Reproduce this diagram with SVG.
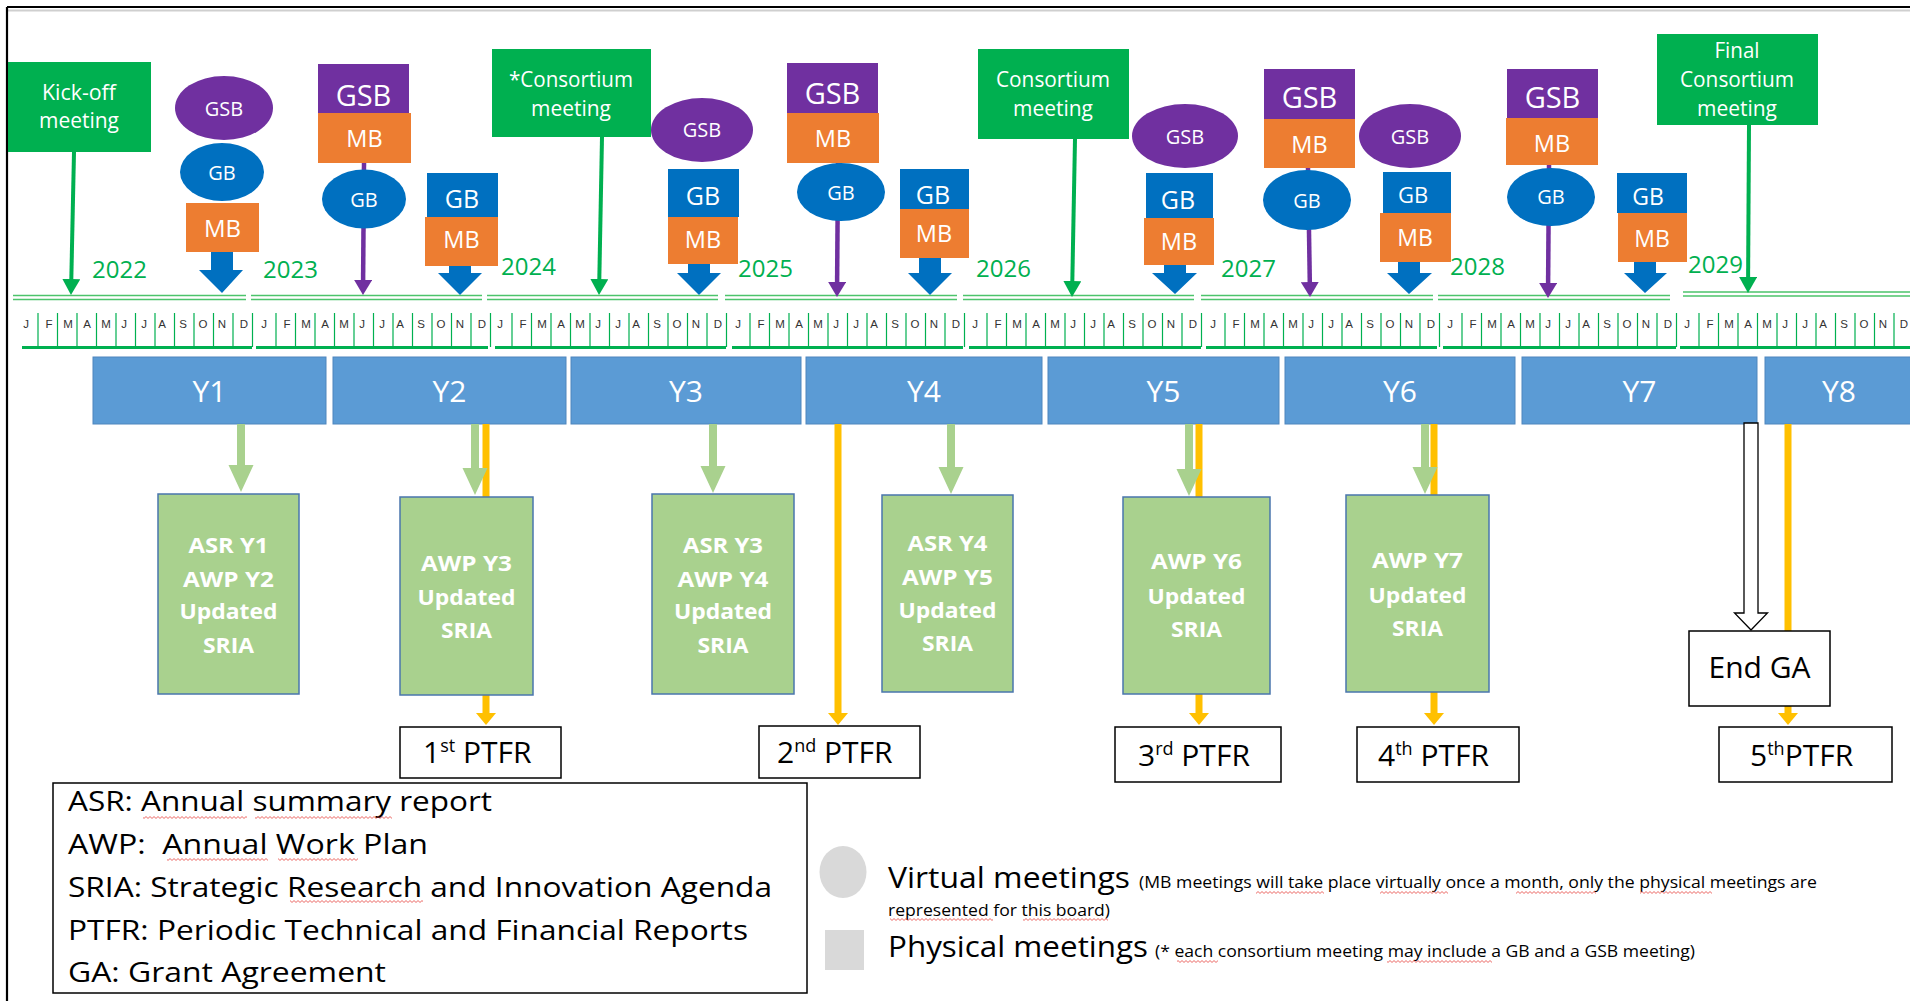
<svg xmlns="http://www.w3.org/2000/svg" width="1910" height="1001" viewBox="0 0 1910 1001">
<style>
text{font-family:"Open Sans","Liberation Sans",sans-serif}
.c{text-anchor:middle}
.w{fill:#fff}
.k{fill:#000}
.pur{fill:#7030A0}
.blu{fill:#0070C0}
.org{fill:#ED7D31}
.grn{fill:#00B050}
.ybox{fill:#5B9BD5;stroke:#4F86BD;stroke-width:1}
.gbox{fill:#A9D18E;stroke:#4A76AD;stroke-width:1.5}
.wbox{fill:#fff;stroke:#000;stroke-width:1.5}
.ct{font-size:21.5px;fill:#fff;text-anchor:middle}
.yt{font-size:30px;fill:#fff;text-anchor:middle}
.bt{font-size:22px;font-weight:bold;fill:#fff;text-anchor:middle}
.pt{font-size:30px;fill:#000}
.sup{font-size:18px}
.yr{font-size:24px;fill:#00B050}
.mo{font-family:"Liberation Sans",sans-serif;font-size:11.5px;fill:#333;text-anchor:middle}
.lg{font-size:26.5px;fill:#000;white-space:pre}
.big{font-size:29px;fill:#000}
.sm{font-size:17px;fill:#000}
.dl{stroke:#4CC46B;stroke-width:1.6;fill:none}
.bl{stroke:#00B050;stroke-width:3;fill:none}
.tk{stroke:#00B050;stroke-width:1.2;fill:none}
.gl{stroke:#00B050;stroke-width:4;fill:none}
.pl{stroke:#7030A0;stroke-width:4.5;fill:none}
.ol{stroke:#FFC000;stroke-width:7;fill:none}
.la{fill:#A9D18E}
.sq{fill:url(#sq)}
</style>
<defs>
<marker id="hG" markerUnits="userSpaceOnUse" markerWidth="16" markerHeight="18" viewBox="0 0 16 18" refX="1" refY="9" orient="auto"><path d="M0,0L16,9L0,18z" fill="#00B050"/></marker>
<marker id="hP" markerUnits="userSpaceOnUse" markerWidth="15" markerHeight="18" viewBox="0 0 15 18" refX="1" refY="9" orient="auto"><path d="M0,0L15,9L0,18z" fill="#7030A0"/></marker>
<marker id="hO" markerUnits="userSpaceOnUse" markerWidth="12" markerHeight="20" viewBox="0 0 12 20" refX="1" refY="10" orient="auto"><path d="M0,0L12,10L0,20z" fill="#FFC000"/></marker>
<path id="tk" class="tk" d="M13,313V347M32.5,313V347M52,313V347M71.5,313V347M91,313V347M110.5,313V347M130,313V347M149.5,313V347M169,313V347M188.5,313V347M208,313V347M227.5,313V347"/>
<pattern id="sq" width="4" height="3" patternUnits="userSpaceOnUse"><path d="M-1,1.5L0,2.5L2,0.5L4,2.5L5,1.5" stroke="#E53935" stroke-width="0.8" fill="none"/></pattern>
</defs>
<rect width="1910" height="1001" fill="#fff"/>
<g id="frame">
<path d="M8,10.5H1910" stroke="#cfcfcf" stroke-width="2"/>
<path d="M7,7H1910M7,7V1001" stroke="#000" stroke-width="2.2" fill="none"/>
</g>

<g id="timeline">
<path class="dl" d="M13,295.5H246M13,299.5H246M251,295.5H482M251,299.5H482M487,295.5H718M487,299.5H718M725,295.5H957M725,299.5H957M963,295.5H1194M963,299.5H1194M1201,295.5H1433M1201,299.5H1433M1438,295.5H1670M1438,299.5H1670M1683,292H1910M1683,296H1910"/>
<path class="bl" d="M22,347.5H252M256,347.5H488M495,347.5H726M732,347.5H963M969,347.5H1201M1206,347.5H1437M1443,347.5H1676M1680,347.5H1910"/>
<use href="#tk" x="25"/><use href="#tk" x="263"/><use href="#tk" x="499"/><use href="#tk" x="737"/><use href="#tk" x="974"/><use href="#tk" x="1212"/><use href="#tk" x="1449"/><use href="#tk" x="1686"/>
<text class="yr" x="92" y="278">2022</text>
<text class="yr" x="263" y="278">2023</text>
<text class="yr" x="501" y="275">2024</text>
<text class="yr" x="738" y="277">2025</text>
<text class="yr" x="976" y="277">2026</text>
<text class="yr" x="1221" y="277">2027</text>
<text class="yr" x="1450" y="275">2028</text>
<text class="yr" x="1688" y="273">2029</text>
<text class="mo" y="328"><tspan x="26">J</tspan><tspan x="49">F</tspan><tspan x="68">M</tspan><tspan x="87">A</tspan><tspan x="106">M</tspan><tspan x="124">J</tspan><tspan x="144">J</tspan><tspan x="162">A</tspan><tspan x="183">S</tspan><tspan x="203">O</tspan><tspan x="222">N</tspan><tspan x="244">D</tspan></text>
<text class="mo" y="328"><tspan x="264">J</tspan><tspan x="287">F</tspan><tspan x="306">M</tspan><tspan x="325">A</tspan><tspan x="344">M</tspan><tspan x="362">J</tspan><tspan x="382">J</tspan><tspan x="400">A</tspan><tspan x="421">S</tspan><tspan x="441">O</tspan><tspan x="460">N</tspan><tspan x="482">D</tspan></text>
<text class="mo" y="328"><tspan x="500">J</tspan><tspan x="523">F</tspan><tspan x="542">M</tspan><tspan x="561">A</tspan><tspan x="580">M</tspan><tspan x="598">J</tspan><tspan x="618">J</tspan><tspan x="636">A</tspan><tspan x="657">S</tspan><tspan x="677">O</tspan><tspan x="696">N</tspan><tspan x="718">D</tspan></text>
<text class="mo" y="328"><tspan x="738">J</tspan><tspan x="761">F</tspan><tspan x="780">M</tspan><tspan x="799">A</tspan><tspan x="818">M</tspan><tspan x="836">J</tspan><tspan x="856">J</tspan><tspan x="874">A</tspan><tspan x="895">S</tspan><tspan x="915">O</tspan><tspan x="934">N</tspan><tspan x="956">D</tspan></text>
<text class="mo" y="328"><tspan x="975">J</tspan><tspan x="998">F</tspan><tspan x="1017">M</tspan><tspan x="1036">A</tspan><tspan x="1055">M</tspan><tspan x="1073">J</tspan><tspan x="1093">J</tspan><tspan x="1111">A</tspan><tspan x="1132">S</tspan><tspan x="1152">O</tspan><tspan x="1171">N</tspan><tspan x="1193">D</tspan></text>
<text class="mo" y="328"><tspan x="1213">J</tspan><tspan x="1236">F</tspan><tspan x="1255">M</tspan><tspan x="1274">A</tspan><tspan x="1293">M</tspan><tspan x="1311">J</tspan><tspan x="1331">J</tspan><tspan x="1349">A</tspan><tspan x="1370">S</tspan><tspan x="1390">O</tspan><tspan x="1409">N</tspan><tspan x="1431">D</tspan></text>
<text class="mo" y="328"><tspan x="1450">J</tspan><tspan x="1473">F</tspan><tspan x="1492">M</tspan><tspan x="1511">A</tspan><tspan x="1530">M</tspan><tspan x="1548">J</tspan><tspan x="1568">J</tspan><tspan x="1586">A</tspan><tspan x="1607">S</tspan><tspan x="1627">O</tspan><tspan x="1646">N</tspan><tspan x="1668">D</tspan></text>
<text class="mo" y="328"><tspan x="1687">J</tspan><tspan x="1710">F</tspan><tspan x="1729">M</tspan><tspan x="1748">A</tspan><tspan x="1767">M</tspan><tspan x="1785">J</tspan><tspan x="1805">J</tspan><tspan x="1823">A</tspan><tspan x="1844">S</tspan><tspan x="1864">O</tspan><tspan x="1883">N</tspan><tspan x="1904">D</tspan></text>
</g>

<g id="Y1"><rect class="ybox" x="93" y="357" width="233" height="67"/><text class="yt" x="209.5" y="402">Y1</text></g>
<g id="Y2"><rect class="ybox" x="333" y="357" width="233" height="67"/><text class="yt" x="449.5" y="402">Y2</text></g>
<g id="Y3"><rect class="ybox" x="571" y="357" width="230" height="67"/><text class="yt" x="686" y="402">Y3</text></g>
<g id="Y4"><rect class="ybox" x="806" y="357" width="236" height="67"/><text class="yt" x="924" y="402">Y4</text></g>
<g id="Y5"><rect class="ybox" x="1048" y="357" width="231" height="67"/><text class="yt" x="1163.5" y="402">Y5</text></g>
<g id="Y6"><rect class="ybox" x="1285" y="357" width="230" height="67"/><text class="yt" x="1400" y="402">Y6</text></g>
<g id="Y7"><rect class="ybox" x="1522" y="357" width="235" height="67"/><text class="yt" x="1639.5" y="402">Y7</text></g>
<g id="Y8"><rect class="ybox" x="1765" y="357" width="150" height="67"/><text class="yt" x="1839" y="402">Y8</text></g>

<g id="connectors">
<path class="gl" d="M74,152L71.3,280" marker-end="url(#hG)"/>
<path class="gl" d="M602,137L599.3,280" marker-end="url(#hG)"/>
<path class="gl" d="M1075,139L1072.3,282" marker-end="url(#hG)"/>
<path class="gl" d="M1749,125L1748.1,278" marker-end="url(#hG)"/>
<path class="pl" d="M364,163L363.1,281" marker-end="url(#hP)"/>
<path class="pl" d="M838,163L837.1,283" marker-end="url(#hP)"/>
<path class="pl" d="M1308,168L1309.8,283" marker-end="url(#hP)"/>
<path class="pl" d="M1549,165L1548.1,284" marker-end="url(#hP)"/>
<path class="blu" d="M211,252H233V270H243L222,293L199,270H211Z"/>
<path class="blu" d="M449,266H471V273H482L460,295L438,273H449Z"/>
<path class="blu" d="M688,264H710V273H721L699,295L677,273H688Z"/>
<path class="blu" d="M919,258H941V273H952L930,295L908,273H919Z"/>
<path class="blu" d="M1164,265H1186V273H1197L1175,294L1152,273H1164Z"/>
<path class="blu" d="M1398,262H1420V273H1432L1409,294L1387,273H1398Z"/>
<path class="blu" d="M1634,262H1656V273H1667L1645,293L1624,273H1634Z"/>
<path class="ol" d="M486,424V714" marker-end="url(#hO)"/>
<path class="ol" d="M838,424V714" marker-end="url(#hO)"/>
<path class="ol" d="M1199,424V714" marker-end="url(#hO)"/>
<path class="ol" d="M1434,424V714" marker-end="url(#hO)"/>
<path class="ol" d="M1788,424V714" marker-end="url(#hO)"/>
<path class="la" d="M237,424H245V465H253.5L241,492L228.5,465H237Z"/>
<path class="la" d="M471,424H479V468H487.5L475,495L462.5,468H471Z"/>
<path class="la" d="M709,424H717V466H725.5L713,493L700.5,466H709Z"/>
<path class="la" d="M947,424H955V467H963.5L951,494L938.5,467H947Z"/>
<path class="la" d="M1185,424H1193V469H1201.5L1189,496L1176.5,469H1185Z"/>
<path class="la" d="M1421,424H1429V467H1437.5L1425,494L1412.5,467H1421Z"/>
<path d="M1744,423H1758V613H1767.5L1751,630L1734.5,613H1744Z" fill="#fff" stroke="#000" stroke-width="1.3"/>
</g>

<g id="kickoff"><rect class="grn" x="8" y="62" width="143" height="90"/><text class="ct" x="79" y="100" textLength="74" lengthAdjust="spacingAndGlyphs">Kick-off</text><text class="ct" x="79" y="128" textLength="80" lengthAdjust="spacingAndGlyphs">meeting</text></g>
<g id="consortium1"><rect class="grn" x="492" y="49" width="159" height="88"/><text class="ct" x="571" y="87" textLength="124" lengthAdjust="spacingAndGlyphs">*Consortium</text><text class="ct" x="571" y="116" textLength="80" lengthAdjust="spacingAndGlyphs">meeting</text></g>
<g id="consortium2"><rect class="grn" x="978" y="49" width="151" height="90"/><text class="ct" x="1053" y="87" textLength="114" lengthAdjust="spacingAndGlyphs">Consortium</text><text class="ct" x="1053" y="116" textLength="80" lengthAdjust="spacingAndGlyphs">meeting</text></g>
<g id="finalConsortium"><rect class="grn" x="1657" y="34" width="161" height="91"/><text class="ct" x="1737" y="58" textLength="45" lengthAdjust="spacingAndGlyphs">Final</text><text class="ct" x="1737" y="87" textLength="114" lengthAdjust="spacingAndGlyphs">Consortium</text><text class="ct" x="1737" y="116" textLength="80" lengthAdjust="spacingAndGlyphs">meeting</text></g>

<g id="m2022">
<ellipse class="pur" cx="224" cy="108" rx="49" ry="32"/><text class="w c" x="224" y="116" font-size="20">GSB</text>
<ellipse class="blu" cx="222" cy="172" rx="42" ry="29"/><text class="w c" x="222" y="180" font-size="20">GB</text>
<rect class="org" x="186" y="203" width="73" height="49"/><text class="w c" x="222.5" y="237" font-size="24">MB</text>
</g>
<g id="m2023a">
<rect class="pur" x="318" y="64" width="91" height="49"/><text class="w c" x="363.5" y="106" font-size="29">GSB</text>
<rect class="org" x="318" y="113" width="93" height="50"/><text class="w c" x="364.5" y="147" font-size="23.5">MB</text>
<ellipse class="blu" cx="364" cy="199" rx="42" ry="29.5"/><text class="w c" x="364" y="207" font-size="20">GB</text>
</g>
<g id="m2023b">
<rect class="blu" x="427" y="173" width="71" height="44"/><text class="w c" x="462" y="208" font-size="25">GB</text>
<rect class="org" x="425" y="217" width="73" height="49"/><text class="w c" x="461.5" y="248" font-size="23.5">MB</text>
</g>
<g id="m2024">
<ellipse class="pur" cx="702" cy="130" rx="51" ry="32"/><text class="w c" x="702" y="137" font-size="20">GSB</text>
<rect class="blu" x="668" y="169" width="71" height="48"/><text class="w c" x="703" y="205" font-size="25">GB</text>
<rect class="org" x="668" y="217" width="70" height="47"/><text class="w c" x="703" y="248" font-size="23.5">MB</text>
</g>
<g id="m2025a">
<rect class="pur" x="787" y="63" width="91" height="50"/><text class="w c" x="832.5" y="104" font-size="29">GSB</text>
<rect class="org" x="787" y="113" width="92" height="50"/><text class="w c" x="833" y="147" font-size="23.5">MB</text>
<ellipse class="blu" cx="841" cy="192" rx="44" ry="29"/><text class="w c" x="841" y="200" font-size="20">GB</text>
</g>
<g id="m2025b">
<rect class="blu" x="900" y="169" width="69" height="40"/><text class="w c" x="933" y="204" font-size="25">GB</text>
<rect class="org" x="900" y="209" width="69" height="49"/><text class="w c" x="934" y="242" font-size="23.5">MB</text>
</g>
<g id="m2026">
<ellipse class="pur" cx="1185" cy="136" rx="53" ry="32"/><text class="w c" x="1185" y="144" font-size="20">GSB</text>
<rect class="blu" x="1146" y="173" width="67" height="45"/><text class="w c" x="1178" y="209" font-size="25">GB</text>
<rect class="org" x="1144" y="218" width="70" height="47"/><text class="w c" x="1179" y="250" font-size="23.5">MB</text>
</g>
<g id="m2027a">
<rect class="pur" x="1264" y="69" width="91" height="50"/><text class="w c" x="1309.5" y="108" font-size="29">GSB</text>
<rect class="org" x="1264" y="119" width="91" height="49"/><text class="w c" x="1309.5" y="153" font-size="23.5">MB</text>
<ellipse class="blu" cx="1307" cy="200" rx="44" ry="30"/><text class="w c" x="1307" y="208" font-size="20">GB</text>
</g>
<g id="m2027b">
<ellipse class="pur" cx="1410" cy="136" rx="51" ry="32"/><text class="w c" x="1410" y="144" font-size="20">GSB</text>
<rect class="blu" x="1383" y="172" width="68" height="41"/><text class="w c" x="1413" y="203" font-size="22">GB</text>
<rect class="org" x="1380" y="213" width="71" height="49"/><text class="w c" x="1415" y="246" font-size="23">MB</text>
</g>
<g id="m2028a">
<rect class="pur" x="1507" y="69" width="91" height="49"/><text class="w c" x="1552.5" y="108" font-size="29">GSB</text>
<rect class="org" x="1506" y="118" width="92" height="47"/><text class="w c" x="1552" y="152" font-size="23.5">MB</text>
<ellipse class="blu" cx="1551" cy="197" rx="44" ry="29"/><text class="w c" x="1551" y="204" font-size="20">GB</text>
</g>
<g id="m2028b">
<rect class="blu" x="1617" y="173" width="70" height="40"/><text class="w c" x="1648" y="205" font-size="23">GB</text>
<rect class="org" x="1618" y="213" width="69" height="49"/><text class="w c" x="1652" y="247" font-size="23">MB</text>
</g>

<g id="out1"><rect class="gbox" x="158" y="494" width="141" height="200"/>
<text class="bt" x="228.5" y="553" textLength="80" lengthAdjust="spacingAndGlyphs">ASR Y1</text>
<text class="bt" x="228.5" y="587" textLength="91" lengthAdjust="spacingAndGlyphs">AWP Y2</text>
<text class="bt" x="228.5" y="619" textLength="98" lengthAdjust="spacingAndGlyphs">Updated</text>
<text class="bt" x="228.5" y="653" textLength="51" lengthAdjust="spacingAndGlyphs">SRIA</text></g>
<g id="out2"><rect class="gbox" x="400" y="497" width="133" height="198"/>
<text class="bt" x="466.5" y="571" textLength="91" lengthAdjust="spacingAndGlyphs">AWP Y3</text>
<text class="bt" x="466.5" y="605" textLength="98" lengthAdjust="spacingAndGlyphs">Updated</text>
<text class="bt" x="466.5" y="638" textLength="51" lengthAdjust="spacingAndGlyphs">SRIA</text></g>
<g id="out3"><rect class="gbox" x="652" y="494" width="142" height="200"/>
<text class="bt" x="723" y="553" textLength="80" lengthAdjust="spacingAndGlyphs">ASR Y3</text>
<text class="bt" x="723" y="587" textLength="91" lengthAdjust="spacingAndGlyphs">AWP Y4</text>
<text class="bt" x="723" y="619" textLength="98" lengthAdjust="spacingAndGlyphs">Updated</text>
<text class="bt" x="723" y="653" textLength="51" lengthAdjust="spacingAndGlyphs">SRIA</text></g>
<g id="out4"><rect class="gbox" x="882" y="495" width="131" height="197"/>
<text class="bt" x="947.5" y="551" textLength="80" lengthAdjust="spacingAndGlyphs">ASR Y4</text>
<text class="bt" x="947.5" y="585" textLength="91" lengthAdjust="spacingAndGlyphs">AWP Y5</text>
<text class="bt" x="947.5" y="618" textLength="98" lengthAdjust="spacingAndGlyphs">Updated</text>
<text class="bt" x="947.5" y="651" textLength="51" lengthAdjust="spacingAndGlyphs">SRIA</text></g>
<g id="out5"><rect class="gbox" x="1123" y="497" width="147" height="197"/>
<text class="bt" x="1196.5" y="569" textLength="91" lengthAdjust="spacingAndGlyphs">AWP Y6</text>
<text class="bt" x="1196.5" y="604" textLength="98" lengthAdjust="spacingAndGlyphs">Updated</text>
<text class="bt" x="1196.5" y="637" textLength="51" lengthAdjust="spacingAndGlyphs">SRIA</text></g>
<g id="out6"><rect class="gbox" x="1346" y="495" width="143" height="197"/>
<text class="bt" x="1417.5" y="568" textLength="91" lengthAdjust="spacingAndGlyphs">AWP Y7</text>
<text class="bt" x="1417.5" y="603" textLength="98" lengthAdjust="spacingAndGlyphs">Updated</text>
<text class="bt" x="1417.5" y="636" textLength="51" lengthAdjust="spacingAndGlyphs">SRIA</text></g>

<g id="ptfr1"><rect class="wbox" x="400" y="727" width="161" height="51"/><text class="pt" x="423" y="763">1<tspan class="sup" dy="-11">st</tspan><tspan dy="11"> PTFR</tspan></text></g>
<g id="ptfr2"><rect class="wbox" x="759" y="726" width="161" height="52"/><text class="pt" x="777" y="763">2<tspan class="sup" dy="-11">nd</tspan><tspan dy="11"> PTFR</tspan></text></g>
<g id="ptfr3"><rect class="wbox" x="1115" y="727" width="166" height="55"/><text class="pt" x="1138" y="766">3<tspan class="sup" dy="-11">rd</tspan><tspan dy="11"> PTFR</tspan></text></g>
<g id="ptfr4"><rect class="wbox" x="1357" y="727" width="162" height="55"/><text class="pt" x="1378" y="766">4<tspan class="sup" dy="-11">th</tspan><tspan dy="11"> PTFR</tspan></text></g>
<g id="ptfr5"><rect class="wbox" x="1719" y="727" width="173" height="55"/><text class="pt" x="1750" y="766">5<tspan class="sup" dy="-11">th</tspan><tspan dy="11">PTFR</tspan></text></g>
<g id="endGA"><rect class="wbox" x="1689" y="631" width="141" height="75"/><text class="pt" x="1759.5" y="678" text-anchor="middle">End GA</text></g>

<g id="legend">
<rect x="53" y="783" width="754" height="210" fill="#fff" stroke="#000" stroke-width="1.5"/>
<text class="lg" x="68" y="811" textLength="424" lengthAdjust="spacingAndGlyphs">ASR: Annual summary report</text>
<text class="lg" x="68" y="854" xml:space="preserve" textLength="360" lengthAdjust="spacingAndGlyphs">AWP:  Annual Work Plan</text>
<text class="lg" x="68" y="897" textLength="704" lengthAdjust="spacingAndGlyphs">SRIA: Strategic Research and Innovation Agenda</text>
<text class="lg" x="68" y="940" textLength="680" lengthAdjust="spacingAndGlyphs">PTFR: Periodic Technical and Financial Reports</text>
<text class="lg" x="68" y="982" textLength="318" lengthAdjust="spacingAndGlyphs">GA: Grant Agreement</text>
<rect class="sq" x="143" y="816" width="104" height="3"/>
<rect class="sq" x="255" y="816" width="137" height="3"/>
<rect class="sq" x="167" y="858" width="101" height="3"/>
<rect class="sq" x="278" y="858" width="80" height="3"/>
<rect class="sq" x="290" y="900" width="133" height="3"/>
</g>

<g id="meetingKey">
<ellipse cx="843" cy="872" rx="23.5" ry="26" fill="#D9D9D9"/>
<rect x="825" y="930" width="39" height="40" fill="#D9D9D9"/>
<text class="big" x="888" y="888" textLength="242" lengthAdjust="spacingAndGlyphs">Virtual meetings</text>
<text class="sm" x="1139" y="888" textLength="678" lengthAdjust="spacingAndGlyphs">(MB meetings will take place virtually once a month, only the physical meetings are</text>
<text class="sm" x="888" y="916" textLength="222" lengthAdjust="spacingAndGlyphs">represented for this board)</text>
<text class="big" x="888" y="957" textLength="260" lengthAdjust="spacingAndGlyphs">Physical meetings</text>
<text class="sm" x="1155" y="957" textLength="540" lengthAdjust="spacingAndGlyphs">(* each consortium meeting may include a GB and a GSB meeting)</text>
<rect class="sq" x="1256" y="891" width="68" height="3"/>
<rect class="sq" x="1380" y="891" width="68" height="3"/>
<rect class="sq" x="1516" y="891" width="80" height="3"/>
<rect class="sq" x="1640" y="891" width="72" height="3"/>
<rect class="sq" x="890" y="918" width="103" height="3"/>
<rect class="sq" x="1023" y="918" width="85" height="3"/>
<rect class="sq" x="1177" y="960" width="41" height="3"/>
<rect class="sq" x="1387" y="960" width="105" height="3"/>
</g>
</svg>
